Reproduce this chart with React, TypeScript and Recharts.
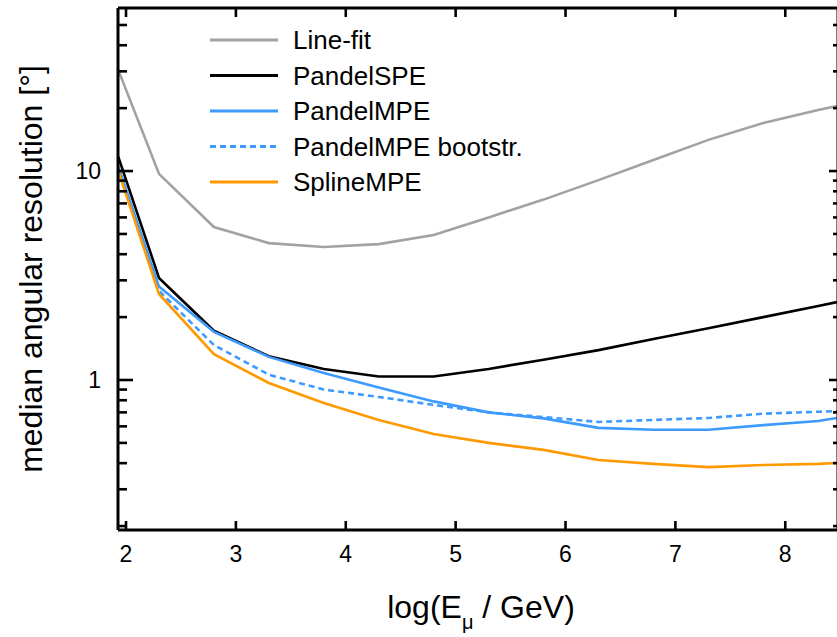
import React from 'react';
import { LineChart, Line, XAxis, YAxis, Legend } from 'recharts';

// log10(E_mu / GeV) sample points (first and last at the frame edges)
const energies = [1.93, 2.3, 2.8, 3.3, 3.8, 4.3, 4.8, 5.3, 5.8, 6.3, 6.8, 7.3, 7.8, 8.3, 8.47];

// median angular resolution in degrees
const lineFit = [30.4, 9.7, 5.4, 4.52, 4.33, 4.47, 4.94, 6.0, 7.3, 9.05, 11.3, 14.1, 17.0, 19.6, 20.5];
const pandelSPE = [11.7, 3.08, 1.72, 1.3, 1.13, 1.04, 1.04, 1.13, 1.25, 1.39, 1.57, 1.77, 2.0, 2.26, 2.36];
const pandelMPE = [10.5, 2.8, 1.7, 1.29, 1.08, 0.92, 0.79, 0.7, 0.655, 0.59, 0.578, 0.578, 0.608, 0.636, 0.658];
const pandelMPEBoot = [10.3, 2.67, 1.47, 1.06, 0.9, 0.83, 0.76, 0.7, 0.665, 0.63, 0.644, 0.658, 0.69, 0.705, 0.71];
const splineMPE = [10.0, 2.58, 1.33, 0.968, 0.776, 0.643, 0.552, 0.5, 0.463, 0.414, 0.397, 0.383, 0.392, 0.397, 0.401];

const seriesNames = ['Line-fit', 'PandelSPE', 'PandelMPE', 'PandelMPE bootstr.', 'SplineMPE'];

const xTicks = [2, 3, 4, 5, 6, 7, 8];
const yTicks = [0.2, 0.3, 0.4, 0.5, 0.6, 0.7, 0.8, 0.9, 1, 2, 3, 4, 5, 6, 7, 8, 9, 10, 20, 30, 40, 50];
const yMajor = [1, 10];
const xDomain = [1.927, 8.48];
const yDomain = [0.1915, 60.3];

const data = energies.map((e, i) => ({
  e,
  lineFit: lineFit[i],
  pandelSPE: pandelSPE[i],
  pandelMPE: pandelMPE[i],
  boot: pandelMPEBoot[i],
  spline: splineMPE[i],
}));

const FONT = '"Liberation Sans", Arial, Helvetica, sans-serif';
const GRAY = '#a2a2a2';
const BLUE = '#3d9bff';
const ORANGE = '#ff9900';

const LeftTick = (props: any) => {
  const { x, y, payload } = props;
  const v = payload.value;
  const major = yMajor.includes(v);
  return (
    <g>
      <line x1={x} x2={x + (major ? 15 : 9)} y1={y} y2={y} stroke="#000" strokeWidth={2.6} />
      {major && (
        <text x={x - 17} y={y} dy="0.36em" textAnchor="end" fontSize={23} fontFamily={FONT} fill="#000">
          {v}
        </text>
      )}
    </g>
  );
};

const RightTick = (props: any) => {
  const { x, y, payload } = props;
  const major = yMajor.includes(payload.value);
  return <line x1={x} x2={x - (major ? 9 : 5)} y1={y} y2={y} stroke="#000" strokeWidth={2.6} />;
};

const BottomTick = (props: any) => {
  const { x, y, payload } = props;
  return (
    <g>
      <line x1={x} x2={x} y1={y} y2={y - 9} stroke="#000" strokeWidth={2.6} />
      <text x={x} y={y + 24} dy="0.36em" textAnchor="middle" fontSize={23} fontFamily={FONT} fill="#000">
        {payload.value}
      </text>
    </g>
  );
};

const TopTick = (props: any) => {
  const { x, y } = props;
  return <line x1={x} x2={x} y1={y} y2={y + 9} stroke="#000" strokeWidth={2.6} />;
};

const LegendContent = (props: any) => {
  const { payload } = props;
  const items = [...(payload || [])].sort(
    (a: any, b: any) => seriesNames.indexOf(a.value) - seriesNames.indexOf(b.value)
  );
  return (
    <svg width={420} height={190} style={{ display: 'block' }}>
      {items.map((p: any, i: number) => {
        const cy = 18 + i * 35.5;
        return (
          <g key={i}>
            <line
              x1={10}
              x2={78}
              y1={cy}
              y2={cy}
              stroke={p.color}
              strokeWidth={3}
              strokeDasharray={p.payload && p.payload.strokeDasharray ? p.payload.strokeDasharray : undefined}
            />
            <text x={93} y={cy} dy="0.36em" fontSize={26} fontFamily={FONT} fill="#000">
              {p.value}
            </text>
          </g>
        );
      })}
    </svg>
  );
};

const XTitle = (props: any) => {
  const vb = props.viewBox || { x: 118, width: 720, y: 530 };
  const cx = vb.x + vb.width / 2 + 3;
  return (
    <text x={cx} y={618} textAnchor="middle" fontSize={32} fontFamily={FONT} fill="#000">
      log(E
      <tspan fontSize={20} dy={11}>μ</tspan>
      <tspan dy={-11}> / GeV)</tspan>
    </text>
  );
};

const YTitle = () => (
  <text
    x={30.5}
    y={269}
    dy="0.36em"
    transform="rotate(-90, 30.5, 269)"
    textAnchor="middle"
    fontSize={32}
    fontFamily={FONT}
    fill="#000"
  >
    median angular resolution [°]
  </text>
);

export default function App() {
  return (
    <div style={{ position: 'absolute', left: 0, top: 0, width: 837, height: 637, overflow: 'hidden', background: '#fff' }}>
      <LineChart width={846} height={637} data={data} margin={{ top: 0, right: 0, bottom: 0, left: 0 }}>
        <XAxis
          xAxisId="bottom"
          dataKey="e"
          type="number"
          domain={xDomain}
          ticks={xTicks}
          allowDataOverflow
          orientation="bottom"
          height={107}
          axisLine={{ stroke: '#000', strokeWidth: 3 }}
          tickLine={false}
          tickSize={0}
          tickMargin={0}
          tick={<BottomTick />}
          interval={0}
          label={<XTitle />}
        />
        <XAxis
          xAxisId="top"
          dataKey="e"
          type="number"
          domain={xDomain}
          ticks={xTicks}
          allowDataOverflow
          orientation="top"
          height={8}
          axisLine={{ stroke: '#000', strokeWidth: 3 }}
          tickLine={false}
          tickSize={0}
          tickMargin={0}
          tick={<TopTick />}
          interval={0}
        />
        <YAxis
          yAxisId="left"
          type="number"
          scale="log"
          domain={yDomain}
          ticks={yTicks}
          allowDataOverflow
          orientation="left"
          width={118}
          axisLine={{ stroke: '#000', strokeWidth: 3 }}
          tickLine={false}
          tickSize={0}
          tickMargin={0}
          tick={<LeftTick />}
          interval={0}
          label={<YTitle />}
        />
        <YAxis
          yAxisId="right"
          type="number"
          scale="log"
          domain={yDomain}
          ticks={yTicks}
          allowDataOverflow
          orientation="right"
          width={8}
          axisLine={{ stroke: '#000', strokeWidth: 3 }}
          tickLine={false}
          tickSize={0}
          tickMargin={0}
          tick={<RightTick />}
          interval={0}
        />
        <Legend
          layout="vertical"
          align="center"
          verticalAlign="middle"
          content={<LegendContent />}
          wrapperStyle={{ position: 'absolute', left: 200, top: 22, width: 420, height: 190 }}
        />
        <Line xAxisId="bottom" yAxisId="left" type="linear" dataKey="lineFit" name={seriesNames[0]} stroke={GRAY} strokeWidth={2.6} dot={false} isAnimationActive={false} />
        <Line xAxisId="bottom" yAxisId="left" type="linear" dataKey="pandelSPE" name={seriesNames[1]} stroke="#000" strokeWidth={2.6} dot={false} isAnimationActive={false} />
        <Line xAxisId="bottom" yAxisId="left" type="linear" dataKey="pandelMPE" name={seriesNames[2]} stroke={BLUE} strokeWidth={2.6} dot={false} isAnimationActive={false} />
        <Line xAxisId="bottom" yAxisId="left" type="linear" dataKey="boot" name={seriesNames[3]} stroke={BLUE} strokeWidth={2.6} strokeDasharray="6 4" dot={false} isAnimationActive={false} />
        <Line xAxisId="bottom" yAxisId="left" type="linear" dataKey="spline" name={seriesNames[4]} stroke={ORANGE} strokeWidth={2.6} dot={false} isAnimationActive={false} />
      </LineChart>
    </div>
  );
}
